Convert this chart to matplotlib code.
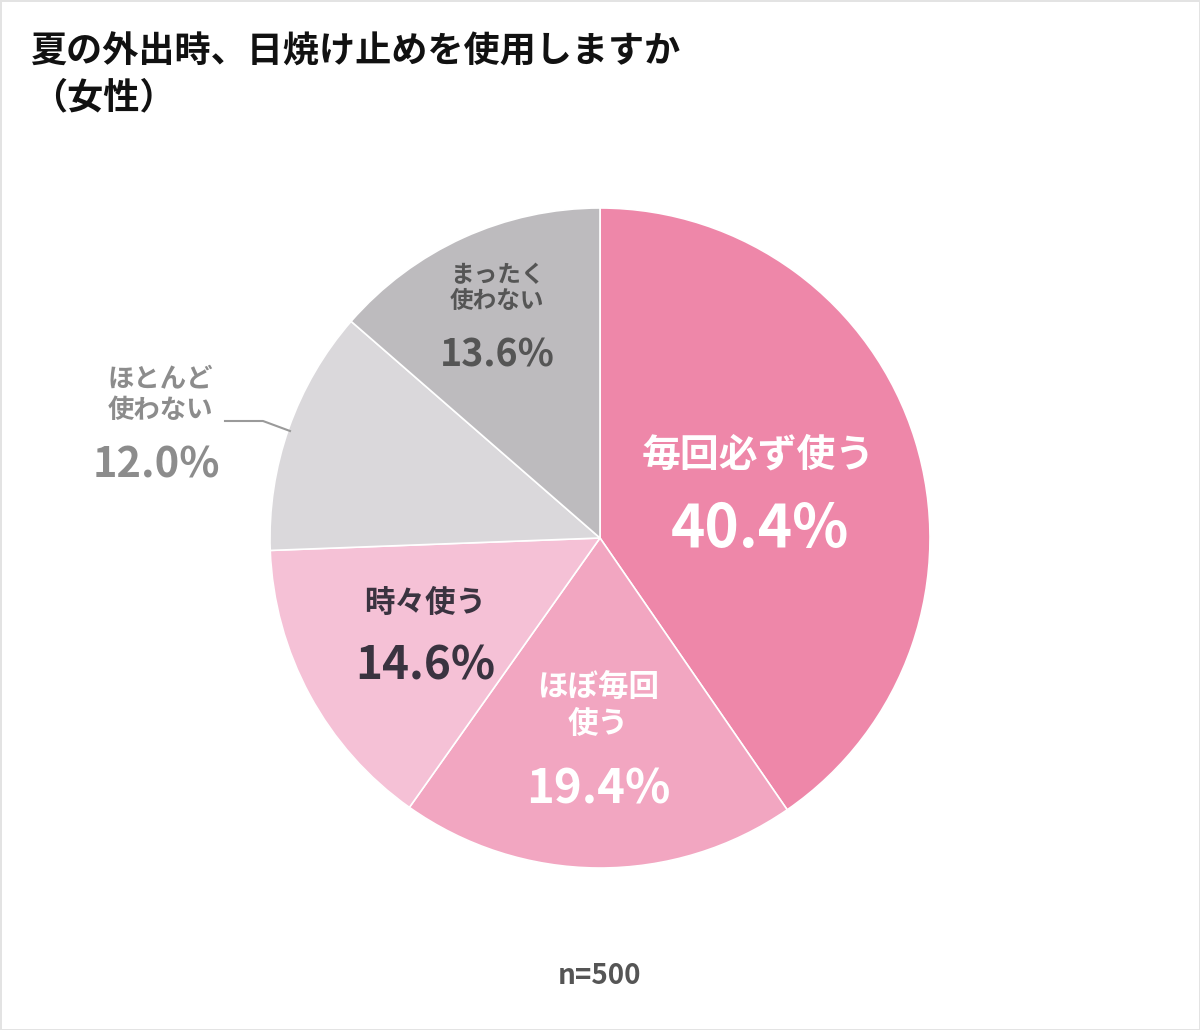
import matplotlib.pyplot as plt
import numpy as np

plt.rcParams['font.family'] = ['Noto Sans CJK JP', 'DejaVu Sans']

# data
labels = ["毎回必ず使う", "ほぼ毎回\n使う", "時々使う", "ほとんど\n使わない", "まったく\n使わない"]
values = [40.4, 19.4, 14.6, 12.0, 13.6]
pct_labels = ["40.4%", "19.4%", "14.6%", "12.0%", "13.6%"]
colors = ["#EE87A9", "#F2A6C1", "#F5C1D6", "#DAD8DB", "#BDBBBE"]
title_lines = ["夏の外出時、日焼け止めを使用しますか", "（女性）"]
note = "n=500"

W, H = 1200, 1030
fig = plt.figure(figsize=(W / 100, H / 100), dpi=100)
fig.patch.set_facecolor("white")
fig.patch.set_edgecolor("#e3e3e3")
fig.patch.set_linewidth(2)

# pie axes: centre (600, 538), radius 330 px
cx, cy, r = 600, 538, 330
ax = fig.add_axes([(cx - r) / W, (H - cy - r) / H, 2 * r / W, 2 * r / H])
ax.pie(values, colors=colors, startangle=90, counterclock=False, radius=1,
       wedgeprops=dict(edgecolor="white", linewidth=1.2))
ax.set_xlim(-1, 1)
ax.set_ylim(-1, 1)
ax.set_aspect("equal")
ax.axis("off")


def px(x, y):
    # pixel position -> pie data coords
    return (x - cx) / r, (cy - y) / r


# label placement (name, pct) in pixels
name_pos = [(758, 455), (598, 706), (425, 603), (108, 395), (497, 288)]
pct_pos = [(760, 530), (598, 790), (425, 667), (93, 466), (497, 355)]
name_size = [28, 22, 22, 19, 17]
pct_size = [42, 34, 33, 30, 27]
txt_colors = ["white", "white", "#3a3340", "#8c8c8c", "#555555"]

for i in range(len(values)):
    ha = "left" if i == 3 else "center"
    ax.text(*px(*name_pos[i]), labels[i], ha=ha, va="center", fontsize=name_size[i],
            fontweight="bold", color=txt_colors[i], linespacing=1.15)
    ax.text(*px(*pct_pos[i]), pct_labels[i], ha=ha, va="center", fontsize=pct_size[i],
            fontweight="bold", color=txt_colors[i])

# leader line for ほとんど使わない
lx, ly = zip(px(225, 421), px(263, 421), px(290, 431))
ax.plot(lx, ly, color="#9a9a9a", lw=1.5, clip_on=False)

fig.text(31 / W, 1 - 52 / H, title_lines[0], ha="left", va="center", fontsize=26,
         fontweight="bold", color="#111111")
fig.text(31 / W, 1 - 98 / H, title_lines[1], ha="left", va="center", fontsize=26,
         fontweight="bold", color="#111111")
fig.text(600 / W, 1 - 976 / H, note, ha="center", va="center", fontsize=20,
         fontweight="bold", color="#555555")

fig.savefig("out.png", dpi=100)
